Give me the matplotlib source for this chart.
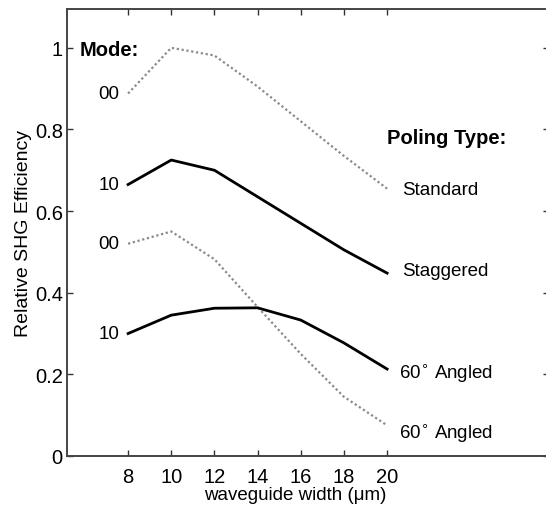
import matplotlib
matplotlib.use("Agg")
import matplotlib.pyplot as plt

widths = [8, 10, 12, 14, 16, 18, 20]
standard_00 = [0.888, 1.0, 0.981, 0.905, 0.82, 0.735, 0.655]
staggered_10 = [0.665, 0.725, 0.70, 0.635, 0.57, 0.505, 0.448]
angled_00 = [0.52, 0.55, 0.482, 0.365, 0.25, 0.145, 0.075]
angled_10 = [0.30, 0.345, 0.362, 0.363, 0.333, 0.277, 0.213]

xticks = [8, 10, 12, 14, 16, 18, 20]
yticks = [0, 0.2, 0.4, 0.6, 0.8, 1]
ytick_labels = ["0", "0.2", "0.4", "0.6", "0.8", "1"]

plt.rcParams['font.family'] = ['Liberation Sans', 'DejaVu Sans']

fig = plt.figure(figsize=(5.46, 5.10), dpi=100)
W, H = 546, 510
left, right, bottom, top = 67, 549, 457, 10
ax = fig.add_axes([left / W, (H - bottom) / H, (right - left) / W, (bottom - top) / H])

gray = '#8a8a8a'
ax.plot(widths, standard_00, color=gray, lw=1.6, ls=(0, (1, 1.2)))
ax.plot(widths, staggered_10, color='black', lw=2.0)
ax.plot(widths, angled_00, color=gray, lw=1.6, ls=(0, (1, 1.2)))
ax.plot(widths, angled_10, color='black', lw=2.0)

ax.set_xlim(5.17, 27.5)
ax.set_ylim(0, 1.095)
ax.set_xticks(xticks)
ax.set_xticklabels([str(v) for v in xticks])
ax.set_yticks(yticks)
ax.set_yticklabels(ytick_labels)
ax.tick_params(direction='in', length=4, width=1, top=True, right=True,
               labelsize=14.5, color='#333333')
ax.tick_params(axis='x', pad=8)
ax.tick_params(axis='y', pad=3)
for s in ax.spines.values():
    s.set_color('#444444')
    s.set_linewidth(1.4)

ax.set_xlabel("waveguide width (\u03bcm)", fontsize=13.5)
ax.xaxis.set_label_coords(0.473, -0.068)
ax.set_ylabel("Relative SHG Efficiency", fontsize=14)
ax.yaxis.set_label_coords(-0.072, 0.5)

fs = 13.5
fb = 14.5
ax.text(5.75, 0.997, "Mode:", fontsize=fb, fontweight='bold', va='center', ha='left')
ax.text(20.0, 0.78, "Poling Type:", fontsize=fb, fontweight='bold', va='center', ha='left')
ax.text(7.6, standard_00[0], "00", fontsize=fs, va='center', ha='right')
ax.text(7.6, staggered_10[0], "10", fontsize=fs, va='center', ha='right')
ax.text(7.6, angled_00[0], "00", fontsize=fs, va='center', ha='right')
ax.text(7.6, angled_10[0], "10", fontsize=fs, va='center', ha='right')
ax.text(20.7, 0.653, "Standard", fontsize=fs, va='center', ha='left')
ax.text(20.7, 0.455, "Staggered", fontsize=fs, va='center', ha='left')
ax.text(20.55, 0.205, "60$^{\\circ}$ Angled", fontsize=fs, va='center', ha='left')
ax.text(20.55, 0.060, "60$^{\\circ}$ Angled", fontsize=fs, va='center', ha='left')

fig.savefig("out.png", dpi=100)
